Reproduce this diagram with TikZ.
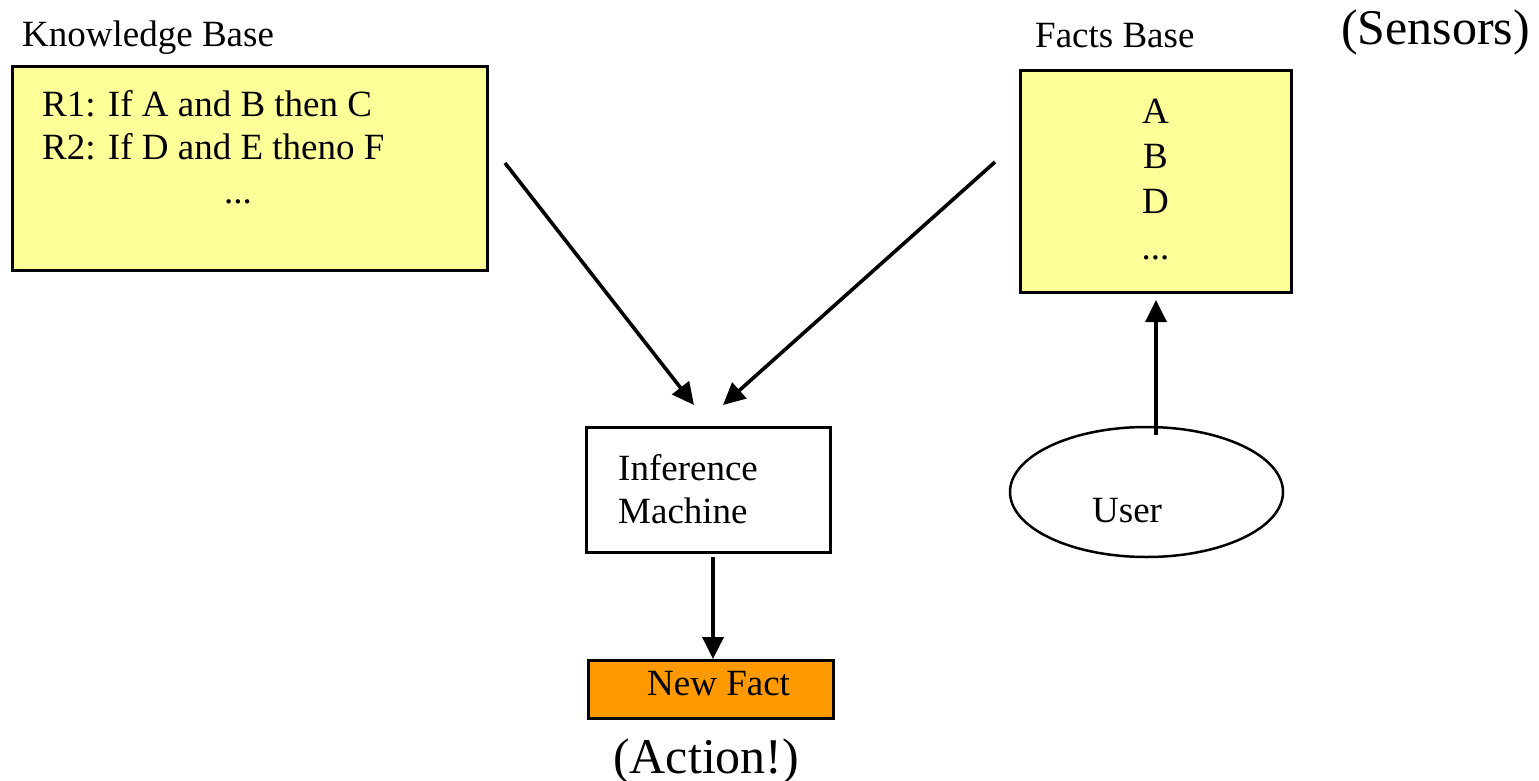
\documentclass[tikz,border=0pt]{standalone}
\usepackage{fontspec}
\setmainfont{Liberation Serif}
\usetikzlibrary{arrows.meta,shapes.geometric}

\definecolor{factyellow}{HTML}{FFFF99}
\definecolor{actionorange}{HTML}{FF9900}
\tikzset{
  basebox/.style={draw=black, line width=3pt, inner sep=0pt},
  kbfill/.style={basebox, fill=factyellow},
  label/.style={inner sep=0pt, anchor=base west, font=\fontsize{37}{44}\selectfont},
  biglabel/.style={inner sep=0pt, anchor=base west, font=\fontsize{50}{60}\selectfont},
  centerlabel/.style={inner sep=0pt, anchor=base, font=\fontsize{37}{44}\selectfont},
  flow/.style={line width=3.6pt, -{Triangle[length=22pt,width=21pt]}}
}

\begin{document}
\begin{tikzpicture}[x=1pt, y=-1pt]
  \useasboundingbox (0,0) rectangle (1539,781);

  % knowledge base
  \node[kbfill, minimum width=475pt, minimum height=203pt] (kb) at (249.5,168.5) {};
  \node[label] (kbtitle) at (22,47) {Knowledge Base};
  \node[label] (r1) at (42,117) {R1: If A and B then C};
  \node[label] (r2) at (42,160) {R2: If D and E theno F};
  \node[centerlabel] (kbdots) at (238,203) {...};

  % facts base
  \node[kbfill, minimum width=271pt, minimum height=221pt] (fb) at (1155.5,181.5) {};
  \node[label] (fbtitle) at (1035,48) {Facts Base};
  \node[biglabel] (sensors) at (1341,45) {(Sensors)};
  \node[centerlabel] (fa) at (1155.5,124) {A};
  \node[centerlabel] (fbb) at (1155.5,168) {B};
  \node[centerlabel] (fd) at (1155.5,213) {D};
  \node[centerlabel] (fdots) at (1155.5,259) {...};

  % inference machine
  \node[basebox, fill=white, minimum width=244pt, minimum height=125pt] (im) at (708,490) {};
  \node[label] (im1) at (618,480) {Inference};
  \node[label] (im2) at (618,523) {Machine};

  % new fact
  \node[basebox, fill=actionorange, minimum width=245pt, minimum height=58pt] (nf) at (710.5,689) {};
  \node[label] (nftext) at (647,695) {New Fact};
  \node[biglabel] (action) at (613,773) {(Action!)};

  % user
  \node[draw=black, line width=2.5pt, ellipse, inner sep=0pt,
        minimum width=273pt, minimum height=130pt] (user) at (1146.5,492) {};
  \node[label] (usertext) at (1092,522) {User};

  % connector ends
  \coordinate (kbout) at (505,163);
  \coordinate (imin1) at (694,405);
  \coordinate (fbout) at (995,162);
  \coordinate (imin2) at (723,405);
  \coordinate (imout) at (713,557);
  \coordinate (nfin) at (713,659);
  \coordinate (userout) at (1156,435);
  \coordinate (fbin) at (1156,300);

  \draw[flow] (kbout) -- (imin1);
  \draw[flow] (fbout) -- (imin2);
  \draw[flow] (imout) -- (nfin);
  \draw[flow] (userout) -- (fbin);
\end{tikzpicture}
\end{document}
